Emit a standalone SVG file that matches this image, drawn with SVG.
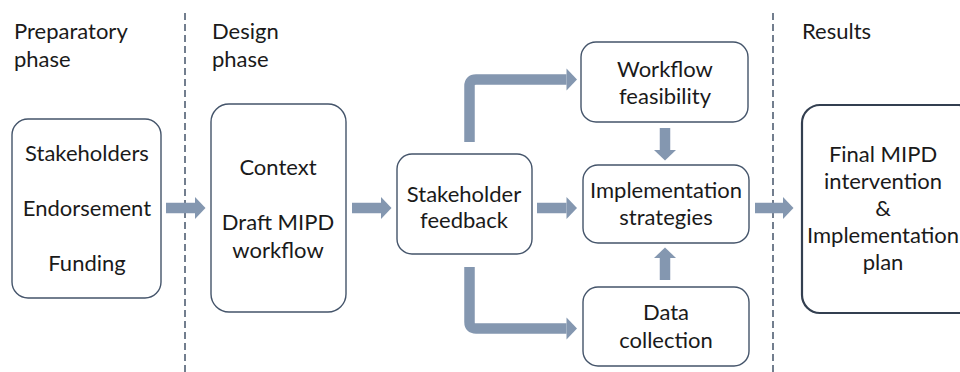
<svg xmlns="http://www.w3.org/2000/svg" width="960" height="372" viewBox="0 0 960 372">
  <defs>
    <style>
      .lbl { font-family: Lato, "Open Sans", "Liberation Sans", sans-serif; font-size: 22px; fill: #1a1a1a; text-anchor: middle; }
      .head { font-family: Lato, "Open Sans", "Liberation Sans", sans-serif; font-size: 22px; fill: #1a1a1a; }
      .box { fill: #ffffff; stroke: #44546a; stroke-width: 1.4; }
      .box-final { fill: #ffffff; stroke: #333f50; stroke-width: 2.2; }
      .divider { stroke: #44546a; stroke-width: 1.5; stroke-dasharray: 7 4; fill: none; }
      .flow { stroke: #8497b0; stroke-width: 10.5; fill: none; }
    </style>
    <marker id="tip" markerUnits="userSpaceOnUse" markerWidth="12" markerHeight="24" refX="0" refY="11" orient="auto" overflow="visible">
      <path d="M0,0 L10.5,11 L0,22 Z" fill="#8497b0"/>
    </marker>
  </defs>

  <!-- phase dividers -->
  <line class="divider" x1="185" y1="13" x2="185" y2="372"/>
  <line class="divider" x1="773" y1="13" x2="773" y2="372"/>

  <!-- phase headings -->
  <text class="head" x="14" y="39">Preparatory</text>
  <text class="head" x="14" y="67">phase</text>
  <text class="head" x="212" y="39">Design</text>
  <text class="head" x="212" y="67">phase</text>
  <text class="head" x="802" y="39">Results</text>

  <!-- connectors -->
  <g id="connectors">
    <path class="flow" d="M166,208 H195" marker-end="url(#tip)"/>
    <path class="flow" d="M352,208 H381" marker-end="url(#tip)"/>
    <path class="flow" d="M537,208 H566.5" marker-end="url(#tip)"/>
    <path class="flow" d="M469.5,142 V86 Q469.5,79.5 476,79.5 H566.5" marker-end="url(#tip)"/>
    <path class="flow" d="M469.5,267 V322 Q469.5,328.5 476,328.5 H566.5" marker-end="url(#tip)"/>
    <path class="flow" d="M665,128 V150" marker-end="url(#tip)"/>
    <path class="flow" d="M665,280 V258" marker-end="url(#tip)"/>
    <path class="flow" d="M755,208 H783" marker-end="url(#tip)"/>
  </g>

  <g id="preparatory">
    <rect class="box" x="12" y="119" width="149" height="179" rx="16"/>
    <text class="lbl" x="87" y="161">Stakeholders</text>
    <text class="lbl" x="87" y="216">Endorsement</text>
    <text class="lbl" x="87" y="271">Funding</text>
  </g>

  <g id="design">
    <rect class="box" x="211" y="104" width="135" height="208" rx="18"/>
    <text class="lbl" x="278" y="175">Context</text>
    <text class="lbl" x="278" y="230">Draft MIPD</text>
    <text class="lbl" x="278" y="258">workflow</text>
  </g>

  <g id="stakeholder-feedback">
    <rect class="box" x="397" y="154" width="135" height="100" rx="15"/>
    <text class="lbl" x="464" y="202">Stakeholder</text>
    <text class="lbl" x="464" y="228">feedback</text>
  </g>

  <g id="workflow-feasibility">
    <rect class="box" x="581" y="42" width="167" height="80" rx="15"/>
    <text class="lbl" x="665" y="77">Workflow</text>
    <text class="lbl" x="665" y="104">feasibility</text>
  </g>

  <g id="implementation-strategies">
    <rect class="box" x="583" y="165" width="166" height="78" rx="15"/>
    <text class="lbl" x="666" y="198">Implementation</text>
    <text class="lbl" x="666" y="225">strategies</text>
  </g>

  <g id="data-collection">
    <rect class="box" x="583" y="287" width="166" height="79" rx="15"/>
    <text class="lbl" x="666" y="320">Data</text>
    <text class="lbl" x="666" y="348">collection</text>
  </g>

  <g id="final-plan">
    <rect class="box-final" x="802" y="105" width="175" height="208" rx="18"/>
    <text class="lbl" x="883" y="162">Final MIPD</text>
    <text class="lbl" x="883" y="189">intervention</text>
    <text class="lbl" x="883" y="216">&amp;</text>
    <text class="lbl" x="883" y="243">Implementation</text>
    <text class="lbl" x="883" y="270">plan</text>
  </g>
</svg>
